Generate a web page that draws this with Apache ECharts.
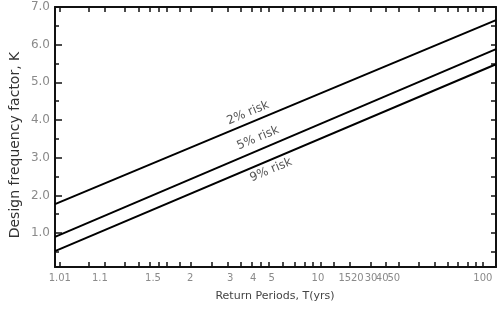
<!DOCTYPE html>
<html>
<head>
    <meta charset="utf-8">
    <title>Design frequency factor</title>
    <script src="https://cdn.jsdelivr.net/npm/echarts@6/dist/echarts.min.js"></script>
</head>
<body style="margin:0;background:#fff">
    <div id="main" style="width: 500px;height:309px;"></div>
    <script type="text/javascript">
        // x axis is the extreme value (reduced variate) scale of return period T
        var xLabels = ['1.01', '1.1', '1.5', '2', '3', '4', '5', '10', '15', '20', '30', '40', '50', '100'];
        // where each label is printed on the sheet, in reduced-variate units
        var xLabelPos = [-1.53, -0.95, -0.18, 0.36, 0.94, 1.27, 1.54, 2.21, 2.60, 2.78, 2.98, 3.14, 3.31, 4.60];
        var tickT = [1.01, 1.05, 1.1, 1.2, 1.3, 1.4, 1.5, 1.6, 1.8, 2, 2.5, 3, 3.5, 4, 4.5, 5, 6, 7, 8, 9, 10,
            12, 15, 20, 25, 30, 40, 50, 60, 70, 80, 90, 100];
        var xEnds = [-1.60, 4.79];
        var risk2 = [1.77, 6.65];
        var risk5 = [0.90, 5.88];
        var risk9 = [0.52, 5.48];
        var riskNames = ['2% risk', '5% risk', '9% risk'];
        var yLabels = [1, 2, 3, 4, 5, 6, 7];
        var yHalf = [0.5, 1.5, 2.5, 3.5, 4.5, 5.5, 6.5];

        function gumbel(T) {
            return -Math.log(-Math.log(1 - 1 / T));
        }
        var tickPos = tickT.map(gumbel);

        function line(k) {
            return [[xEnds[0], k[0]], [xEnds[1], k[1]]];
        }

        var myChart = echarts.init(document.getElementById('main'));
        var axisColor = '#111';
        var labelColor = '#8a8a8a';
        var font = 'DejaVu Sans';

        var option = {
            backgroundColor: '#fff',
            animation: false,
            grid: { left: 55, right: 4, top: 7, bottom: 42 },
            xAxis: [{
                type: 'value',
                min: xEnds[0],
                max: xEnds[1],
                position: 'bottom',
                splitLine: { show: false },
                axisLine: { onZero: false, lineStyle: { color: axisColor, width: 2 } },
                axisTick: { inside: true, length: 5, customValues: tickPos, lineStyle: { color: axisColor, width: 1.5 } },
                axisLabel: {
                    customValues: xLabelPos,
                    color: labelColor,
                    fontFamily: font,
                    fontSize: 10,
                    margin: 6,
                    formatter: function (v) {
                        for (var i = 0; i < xLabelPos.length; i++) {
                            if (Math.abs(xLabelPos[i] - v) < 1e-6) return xLabels[i];
                        }
                        return '';
                    }
                }
            }, {
                type: 'value',
                min: xEnds[0],
                max: xEnds[1],
                position: 'top',
                splitLine: { show: false },
                axisLine: { onZero: false, lineStyle: { color: axisColor, width: 2 } },
                axisTick: { inside: true, length: 5, customValues: tickPos, lineStyle: { color: axisColor, width: 1.5 } },
                axisLabel: { show: false }
            }],
            yAxis: [{
                type: 'value',
                min: 0.1,
                max: 7,
                position: 'left',
                splitLine: { show: false },
                axisLine: { onZero: false, lineStyle: { color: axisColor, width: 2 } },
                axisTick: { inside: true, length: 7, customValues: yLabels, lineStyle: { color: axisColor, width: 1.5 } },
                axisLabel: {
                    customValues: yLabels,
                    color: labelColor,
                    fontFamily: font,
                    fontSize: 12,
                    margin: 5,
                    formatter: function (v) { return v.toFixed(1); }
                }
            }, {
                type: 'value',
                min: 0.1,
                max: 7,
                position: 'left',
                splitLine: { show: false },
                axisLine: { show: false, onZero: false },
                axisTick: { inside: true, length: 4, customValues: yHalf, lineStyle: { color: axisColor, width: 1.5 } },
                axisLabel: { show: false }
            }, {
                type: 'value',
                min: 0.1,
                max: 7,
                position: 'right',
                splitLine: { show: false },
                axisLine: { onZero: false, lineStyle: { color: axisColor, width: 2 } },
                axisTick: { inside: true, length: 5, customValues: yLabels.concat(yHalf), lineStyle: { color: axisColor, width: 1.5 } },
                axisLabel: { show: false }
            }],
            series: [risk2, risk5, risk9].map(function (k, i) {
                return {
                    name: riskNames[i],
                    type: 'line',
                    data: line(k),
                    symbol: 'none',
                    lineStyle: { color: '#000', width: 2 }
                };
            }),
            graphic: [{
                type: 'text', x: 15, y: 145, rotation: Math.PI / 2,
                style: { text: 'Design frequency factor, K', font: '14px DejaVu Sans', fill: '#333', align: 'center', verticalAlign: 'middle' }
            }, {
                type: 'text', x: 275, y: 296,
                style: { text: 'Return Periods, T(yrs)', font: '11px DejaVu Sans', fill: '#444', align: 'center', verticalAlign: 'middle' }
            }, {
                type: 'text', x: 248, y: 113, rotation: 0.4,
                style: { text: riskNames[0], font: '12px DejaVu Sans', fill: '#555', align: 'center', verticalAlign: 'middle' }
            }, {
                type: 'text', x: 258, y: 138, rotation: 0.4,
                style: { text: riskNames[1], font: '12px DejaVu Sans', fill: '#555', align: 'center', verticalAlign: 'middle' }
            }, {
                type: 'text', x: 271, y: 170, rotation: 0.4,
                style: { text: riskNames[2], font: '12px DejaVu Sans', fill: '#555', align: 'center', verticalAlign: 'middle' }
            }]
        };

        myChart.setOption(option);
    </script>
</body>
</html>
